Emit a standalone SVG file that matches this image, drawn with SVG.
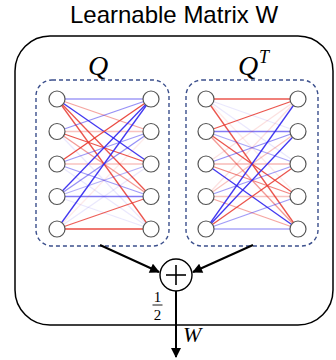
<svg xmlns="http://www.w3.org/2000/svg" width="336" height="360" viewBox="0 0 336 360">
<defs>
<style>
.title{font-family:"Liberation Sans",Arial,sans-serif;font-size:24px;fill:#000}
.math{font-family:"Liberation Serif","DejaVu Serif",serif;font-style:italic;fill:#000}
.num{font-family:"Liberation Serif","DejaVu Serif",serif;font-size:15px;fill:#000}
.box{fill:none;stroke:#3b4f8c;stroke-width:1.4;stroke-dasharray:4 3}
.node{fill:#fff;stroke:#555;stroke-width:1.2}
.r{stroke:#e8372e;stroke-width:1.3}
.b{stroke:#2e22ee;stroke-width:1.3}
.arr{stroke:#000;stroke-width:2;fill:none}
</style>
<marker id="ah" viewBox="0 0 10 10" refX="9" refY="5" markerWidth="5.5" markerHeight="5" orient="auto" markerUnits="strokeWidth">
<path d="M0,0 L10,5 L0,10 z" fill="#000"/>
</marker>
</defs>
<rect width="336" height="360" fill="#fff"/>
<text class="title" x="174" y="23" text-anchor="middle">Learnable Matrix W</text>
<rect id="outer" x="15" y="36" width="318" height="289" rx="35" ry="35" fill="none" stroke="#000" stroke-width="1.5"/>
<text class="math" x="88" y="75" font-size="28">Q</text>
<text class="math" x="238" y="75" font-size="28">Q</text>
<text class="math" x="259" y="63" font-size="18">T</text>
<rect class="box" x="36" y="80" width="133" height="166" rx="16"/>
<rect class="box" x="186" y="80" width="132" height="166" rx="16"/>
<g id="edges-Q">
<line class="b" x1="57" y1="99" x2="151" y2="99" stroke-opacity="0.45"/>
<line class="r" x1="57" y1="99" x2="151" y2="131.5" stroke-opacity="0.45"/>
<line class="b" x1="57" y1="99" x2="151" y2="164" stroke-opacity="0.9"/>
<line class="r" x1="57" y1="99" x2="151" y2="196.5" stroke-opacity="0.85"/>
<line class="r" x1="57" y1="99" x2="151" y2="229" stroke-opacity="0.85"/>
<line class="b" x1="57" y1="131.5" x2="151" y2="99" stroke-opacity="0.5"/>
<line class="r" x1="57" y1="131.5" x2="151" y2="131.5" stroke-opacity="0.3"/>
<line class="r" x1="57" y1="131.5" x2="151" y2="164" stroke-opacity="0.85"/>
<line class="r" x1="57" y1="131.5" x2="151" y2="196.5" stroke-opacity="0.5"/>
<line class="b" x1="57" y1="131.5" x2="151" y2="229" stroke-opacity="0.1"/>
<line class="r" x1="57" y1="164" x2="151" y2="99" stroke-opacity="0.9"/>
<line class="b" x1="57" y1="164" x2="151" y2="131.5" stroke-opacity="0.45"/>
<line class="r" x1="57" y1="164" x2="151" y2="164" stroke-opacity="0.3"/>
<line class="b" x1="57" y1="164" x2="151" y2="196.5" stroke-opacity="0.45"/>
<line class="b" x1="57" y1="164" x2="151" y2="229" stroke-opacity="0.1"/>
<line class="b" x1="57" y1="196.5" x2="151" y2="99" stroke-opacity="0.9"/>
<line class="b" x1="57" y1="196.5" x2="151" y2="131.5" stroke-opacity="0.5"/>
<line class="b" x1="57" y1="196.5" x2="151" y2="164" stroke-opacity="0.35"/>
<line class="b" x1="57" y1="196.5" x2="151" y2="196.5" stroke-opacity="0.6"/>
<line class="b" x1="57" y1="196.5" x2="151" y2="229" stroke-opacity="0.1"/>
<line class="b" x1="57" y1="229" x2="151" y2="99" stroke-opacity="0.9"/>
<line class="r" x1="57" y1="229" x2="151" y2="131.5" stroke-opacity="0.1"/>
<line class="b" x1="57" y1="229" x2="151" y2="164" stroke-opacity="0.1"/>
<line class="r" x1="57" y1="229" x2="151" y2="196.5" stroke-opacity="0.8"/>
<line class="r" x1="57" y1="229" x2="151" y2="229" stroke-opacity="0.9"/>
</g>
<g id="edges-QT">
<line class="r" x1="206" y1="99" x2="298" y2="99" stroke-opacity="0.85"/>
<line class="b" x1="206" y1="99" x2="298" y2="131.5" stroke-opacity="0.1"/>
<line class="b" x1="206" y1="99" x2="298" y2="164" stroke-opacity="0.1"/>
<line class="r" x1="206" y1="99" x2="298" y2="196.5" stroke-opacity="0.1"/>
<line class="r" x1="206" y1="99" x2="298" y2="229" stroke-opacity="0.85"/>
<line class="r" x1="206" y1="131.5" x2="298" y2="99" stroke-opacity="0.85"/>
<line class="b" x1="206" y1="131.5" x2="298" y2="131.5" stroke-opacity="0.6"/>
<line class="b" x1="206" y1="131.5" x2="298" y2="164" stroke-opacity="0.4"/>
<line class="r" x1="206" y1="131.5" x2="298" y2="196.5" stroke-opacity="0.85"/>
<line class="r" x1="206" y1="131.5" x2="298" y2="229" stroke-opacity="0.5"/>
<line class="r" x1="206" y1="164" x2="298" y2="99" stroke-opacity="0.15"/>
<line class="b" x1="206" y1="164" x2="298" y2="131.5" stroke-opacity="0.5"/>
<line class="r" x1="206" y1="164" x2="298" y2="164" stroke-opacity="0.35"/>
<line class="r" x1="206" y1="164" x2="298" y2="196.5" stroke-opacity="0.6"/>
<line class="b" x1="206" y1="164" x2="298" y2="229" stroke-opacity="0.9"/>
<line class="r" x1="206" y1="196.5" x2="298" y2="99" stroke-opacity="0.15"/>
<line class="r" x1="206" y1="196.5" x2="298" y2="131.5" stroke-opacity="0.3"/>
<line class="b" x1="206" y1="196.5" x2="298" y2="164" stroke-opacity="0.45"/>
<line class="r" x1="206" y1="196.5" x2="298" y2="196.5" stroke-opacity="0.3"/>
<line class="r" x1="206" y1="196.5" x2="298" y2="229" stroke-opacity="0.45"/>
<line class="b" x1="206" y1="229" x2="298" y2="99" stroke-opacity="0.9"/>
<line class="b" x1="206" y1="229" x2="298" y2="131.5" stroke-opacity="0.9"/>
<line class="r" x1="206" y1="229" x2="298" y2="164" stroke-opacity="0.85"/>
<line class="b" x1="206" y1="229" x2="298" y2="196.5" stroke-opacity="0.45"/>
<line class="b" x1="206" y1="229" x2="298" y2="229" stroke-opacity="0.4"/>
</g>
<g id="nodes-Q">
<circle class="node" cx="57" cy="99" r="8"/>
<circle class="node" cx="57" cy="131.5" r="8"/>
<circle class="node" cx="57" cy="164" r="8"/>
<circle class="node" cx="57" cy="196.5" r="8"/>
<circle class="node" cx="57" cy="229" r="8"/>
<circle class="node" cx="151" cy="99" r="8"/>
<circle class="node" cx="151" cy="131.5" r="8"/>
<circle class="node" cx="151" cy="164" r="8"/>
<circle class="node" cx="151" cy="196.5" r="8"/>
<circle class="node" cx="151" cy="229" r="8"/>
</g>
<g id="nodes-QT">
<circle class="node" cx="206" cy="99" r="8"/>
<circle class="node" cx="206" cy="131.5" r="8"/>
<circle class="node" cx="206" cy="164" r="8"/>
<circle class="node" cx="206" cy="196.5" r="8"/>
<circle class="node" cx="206" cy="229" r="8"/>
<circle class="node" cx="298" cy="99" r="8"/>
<circle class="node" cx="298" cy="131.5" r="8"/>
<circle class="node" cx="298" cy="164" r="8"/>
<circle class="node" cx="298" cy="196.5" r="8"/>
<circle class="node" cx="298" cy="229" r="8"/>
</g>
<g id="connectors">
<line class="arr" x1="100" y1="245" x2="159" y2="272" marker-end="url(#ah)"/>
<line class="arr" x1="253" y1="245" x2="193" y2="272" marker-end="url(#ah)"/>
<line class="arr" x1="176" y1="291" x2="176" y2="357" marker-end="url(#ah)"/>
</g>
<g id="sum">
<circle cx="176" cy="275" r="16" fill="#fff" stroke="#000" stroke-width="1.4"/>
<line x1="166" y1="275" x2="186" y2="275" stroke="#000" stroke-width="1.6"/>
<line x1="176" y1="265" x2="176" y2="285" stroke="#000" stroke-width="1.6"/>
</g>
<text class="num" x="157.5" y="302" text-anchor="middle">1</text>
<line x1="152.5" y1="305" x2="162.5" y2="305" stroke="#000" stroke-width="0.9"/>
<text class="num" x="157.5" y="320" text-anchor="middle">2</text>
<text class="math" x="183" y="342" font-size="22">W</text>
</svg>
